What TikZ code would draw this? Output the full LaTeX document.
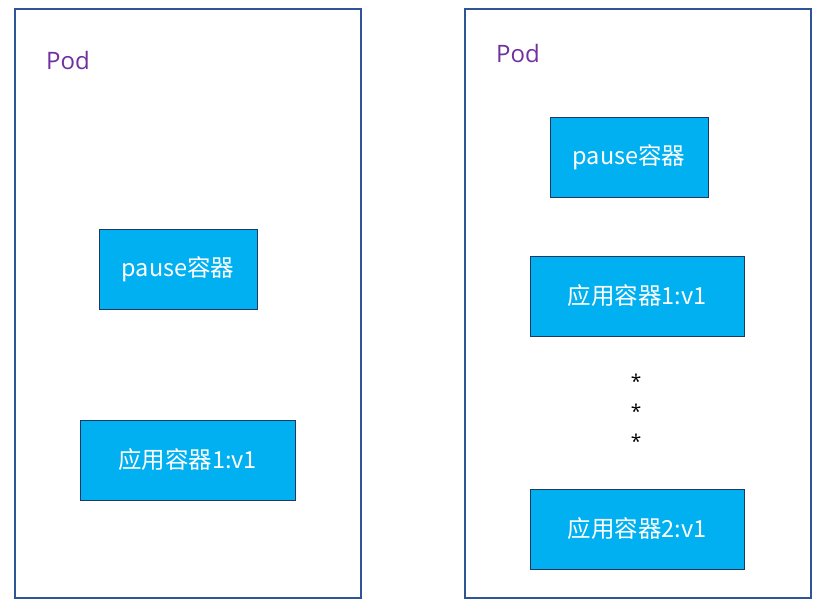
\documentclass[tikz,border=0pt]{standalone}
\usepackage{fontspec}
\setmainfont{Open Sans}
\newfontfamily\cjk{Noto Sans CJK SC}
\definecolor{podborder}{HTML}{2F5597}
\definecolor{boxfill}{HTML}{00B0F0}
\definecolor{boxline}{HTML}{1F3864}
\definecolor{podtext}{HTML}{7030A0}
\begin{document}
\begin{tikzpicture}[x=1pt,y=-1pt,
  pod/.style={draw=podborder,line width=2.5pt,fill=white},
  cbox/.style={draw=boxline,line width=0.9pt,fill=boxfill,text=white,font=\cjk\fontsize{23.5}{26}\selectfont},
  podlabel/.style={text=podtext,font=\fontsize{24}{26}\selectfont},
  dot/.style={font=\fontsize{19}{20}\selectfont,text=black}]
\useasboundingbox (0,0) rectangle (819,610);
\draw[pod] (15,9) rectangle (361,598);
\draw[pod] (465,9) rectangle (811,598);
\node[podlabel] (podL) at (68,61) {Pod};
\node[podlabel] (podR) at (518,54) {Pod};
\node[cbox,minimum width=158pt,minimum height=80pt] (pauseL) at (178,269) {pause容器};
\node[cbox,minimum width=215pt,minimum height=80pt] (appL) at (187.5,460) {应用容器1:v1};
\node[cbox,minimum width=158pt,minimum height=80pt] (pauseR) at (629,157) {pause容器};
\node[cbox,minimum width=214pt,minimum height=80pt] (app1R) at (637,296) {应用容器1:v1};
\node[cbox,minimum width=214pt,minimum height=80pt] (app2R) at (637,529) {应用容器2:v1};
\node[dot] (s1) at (636,381) {*};
\node[dot] (s2) at (636,411) {*};
\node[dot] (s3) at (636,441) {*};
\end{tikzpicture}
\end{document}
